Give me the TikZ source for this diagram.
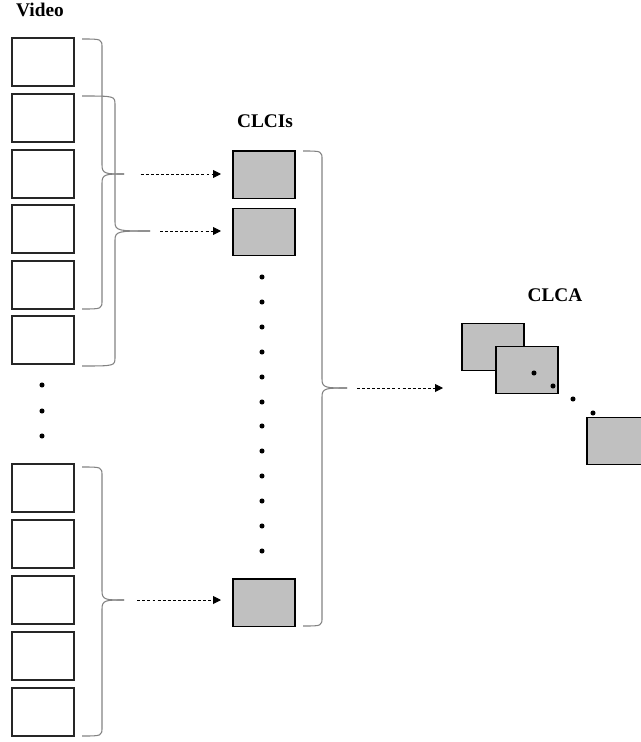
\documentclass[tikz,border=0pt]{standalone}
\usepackage{fontspec}
\setmainfont{Liberation Serif}
\usetikzlibrary{arrows.meta}
\definecolor{boxgray}{RGB}{192,192,192}
\definecolor{bracegray}{RGB}{130,130,130}
\tikzset{
  framebox/.style={draw=black!85, line width=0.9pt, fill=white, minimum width=46.5pt, minimum height=36pt, inner sep=0pt, outer sep=0pt},
  clbox/.style={draw=black, line width=1pt, fill=boxgray, minimum width=46.5pt, minimum height=35.5pt, inner sep=0pt, outer sep=0pt},
  bracestyle/.style={draw=bracegray, line width=0.8pt},
  dasharrow/.style={draw=black, line width=0.7pt, dash pattern=on 2.2pt off 1.6pt, -{Triangle[length=6pt,width=6pt]}},
  dotmark/.style={circle, fill=black, inner sep=0pt, minimum size=3.8pt},
  lbl/.style={font=\bfseries\fontsize{14.5}{16}\selectfont, anchor=base, inner sep=0pt}
}
\newcommand{\cbrace}[7]{%
  \draw[bracestyle] (#1,#3) .. controls (#2,#3) .. (#2,#3+9) -- (#2,#5-9) .. controls (#2,#5) and (#2+4,#5) .. (#6,#5);
  \draw[bracestyle] (#6,#5) .. controls (#2+4,#5) and (#2,#5) .. (#2,#5+9) -- (#2,#4-9) .. controls (#2,#4) .. (#1,#4);
  \coordinate (#7) at (#6,#5);}
\begin{document}
\begin{tikzpicture}[x=0.75pt,y=-0.75pt]
\useasboundingbox (0,0) rectangle (641,742);
% labels
\node[lbl] (video) at (40,17) {Video};
\node[lbl] (clcis) at (265,127) {CLCIs};
\node[lbl] (clca) at (555,301) {CLCA};
% video frames
\foreach \i/\y in {1/62,2/118,3/174,4/229,5/285,6/340,7/488,8/544,9/600,10/656,11/712}
  \node[framebox] (v\i) at (43,\y) {};
% vertical dots left
\foreach \i/\y in {1/385,2/411,3/436}
  \node[dotmark] (ld\i) at (42,\y) {};
% braces
\cbrace{82}{102}{39}{309}{174}{124}{t1}
\cbrace{82}{115}{96}{366}{231}{150}{t2}
\cbrace{82}{102}{467}{736}{600}{124}{t3}
% CLCI boxes
\node[clbox] (c1) at (264,174.5) {};
\node[clbox] (c2) at (264,232) {};
\node[clbox] (c3) at (264,602.5) {};
\foreach \i/\y in {1/277,2/302,3/327,4/352,5/377,6/402,7/426,8/451,9/476,10/501,11/526,12/551}
  \node[dotmark] (cd\i) at (262,\y) {};
\cbrace{303}{322}{151}{626}{388}{347}{t4}
% arrows
\draw[dasharrow, shorten <=12.5pt, shorten >=9pt] (t1) -- (t1 -| c1.west);
\draw[dasharrow, shorten <=7.5pt, shorten >=9pt] (t2) -- (t2 -| c2.west);
\draw[dasharrow, shorten <=10pt, shorten >=9pt] (t3) -- (t3 -| c3.west);
\coordinate (aend) at (443,388);
\draw[dasharrow, shorten <=7.5pt] (t4) -- (aend);
% CLCA boxes
\node[clbox] (a1) at (493,347) {};
\node[clbox] (a2) at (527,370) {};
\node[clbox] (a3) at (618,441) {};
\foreach \i/\x/\y in {1/534/373,2/553/386,3/573/399,4/593/413}
  \node[dotmark] (ad\i) at (\x,\y) {};
\end{tikzpicture}
\end{document}
